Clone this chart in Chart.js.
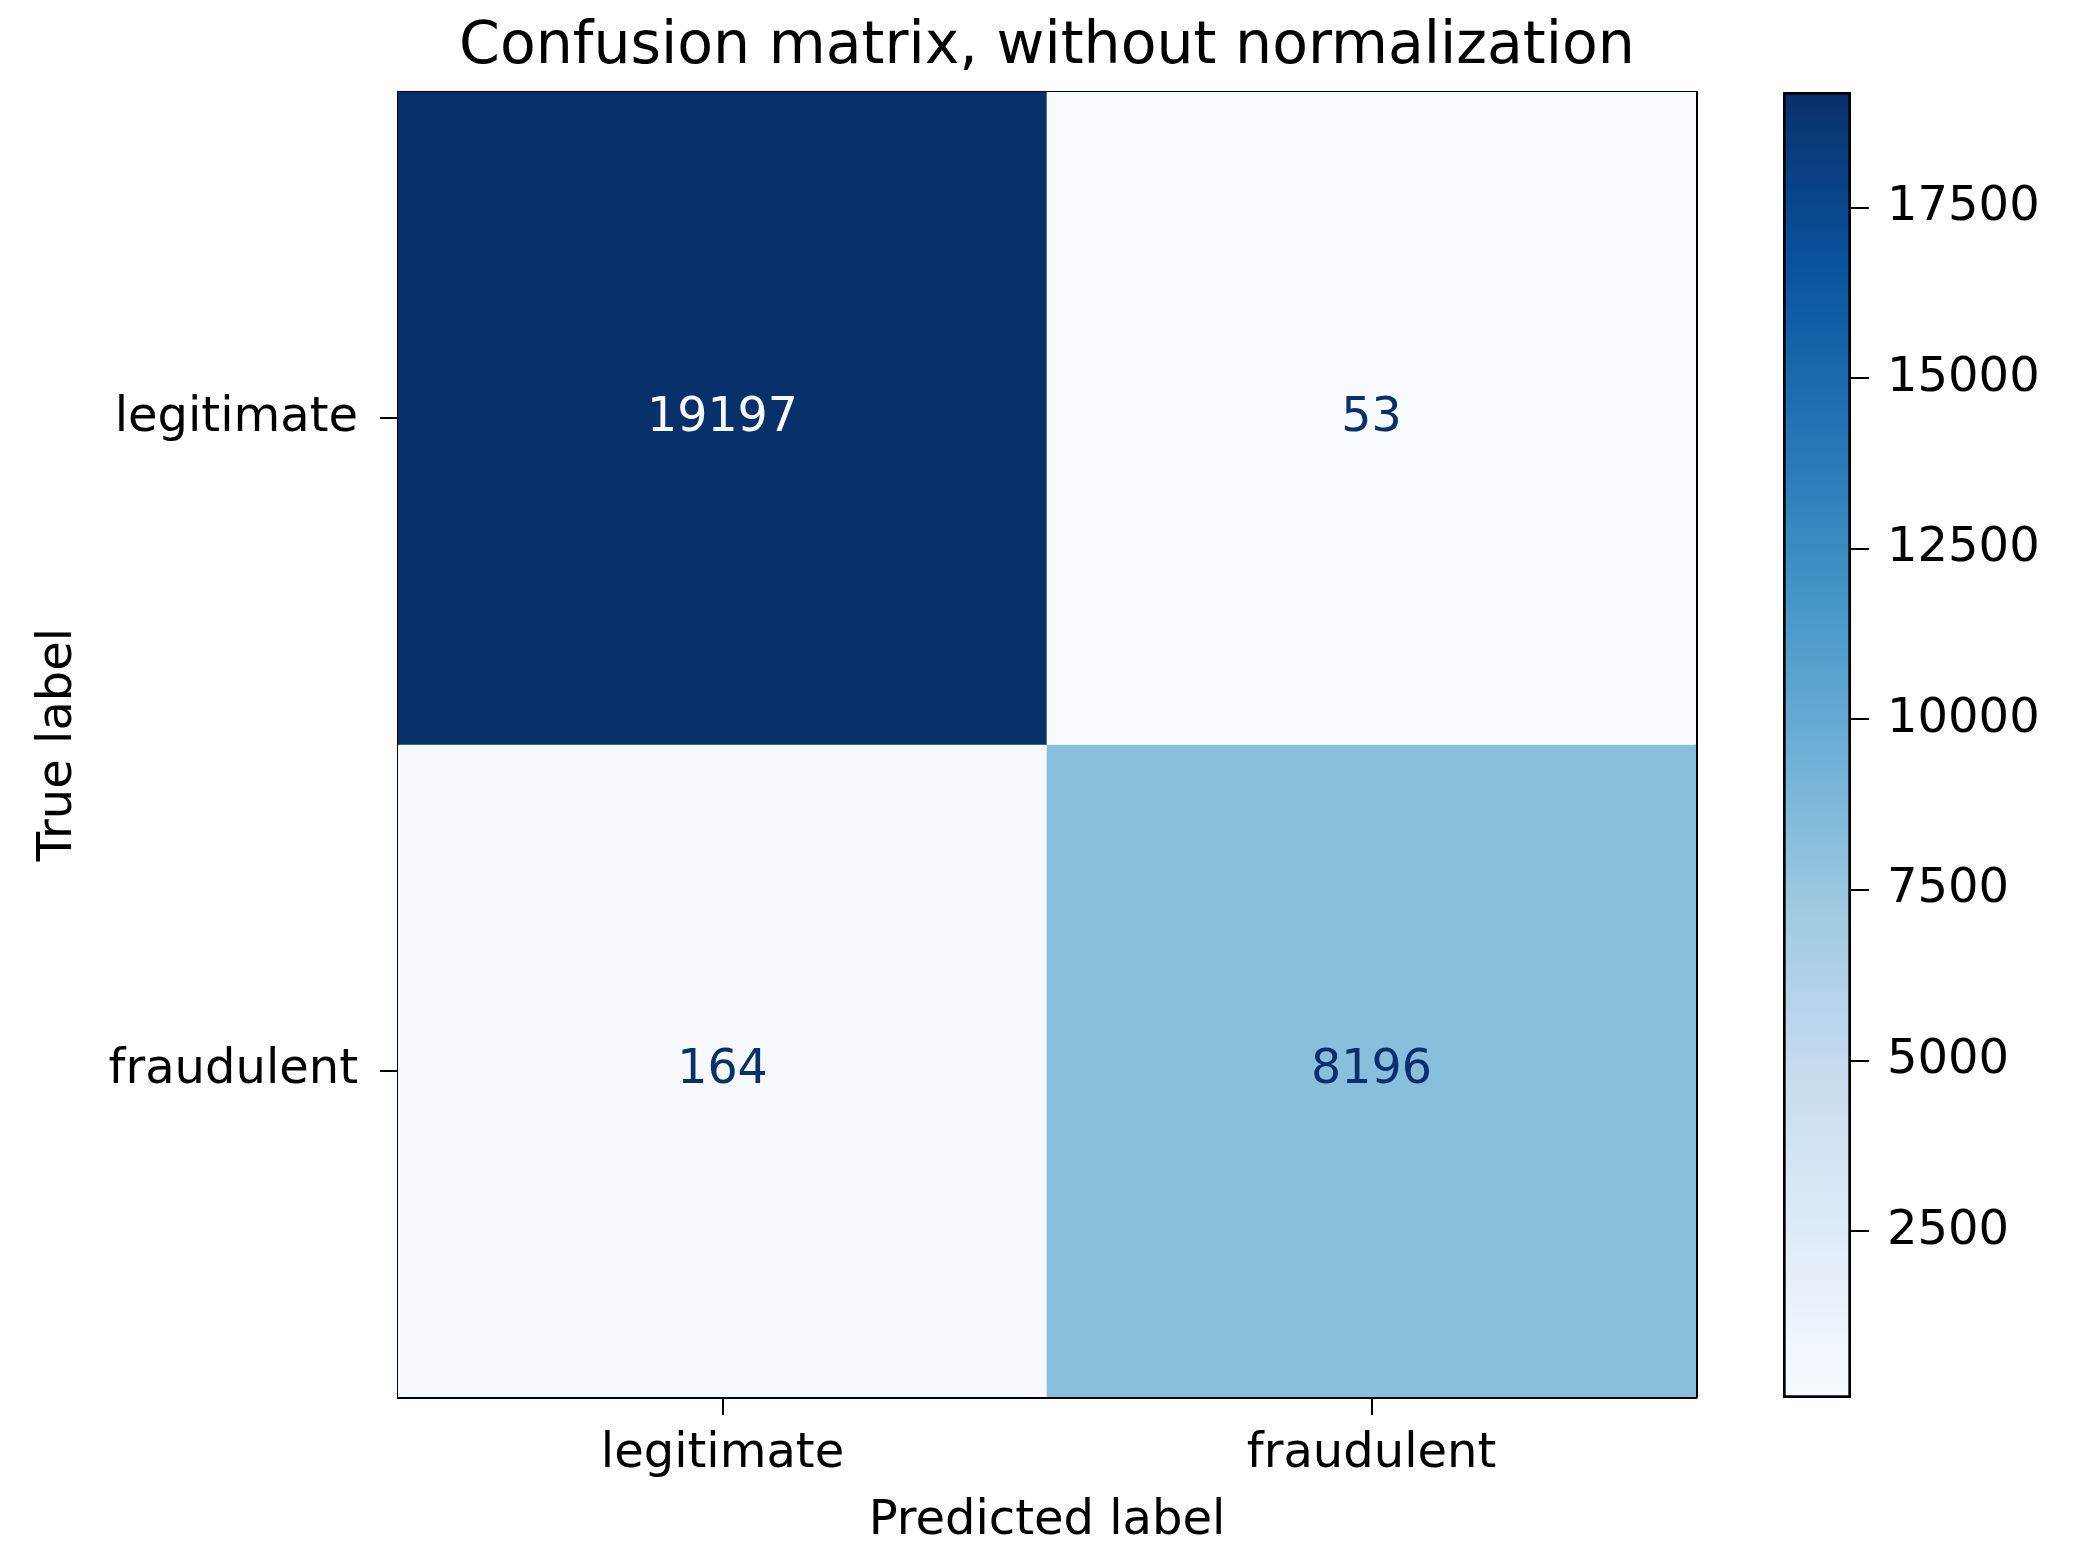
<!DOCTYPE html>
<html lang="en">
<head>
    <meta charset="UTF-8">
    <title>Confusion matrix, without normalization</title>
    <script src="https://cdn.jsdelivr.net/npm/chart.js"></script> <!--Used for charts-->
    <style>
        html, body {
            margin: 0;
            padding: 0;
            background: #ffffff;
            overflow: hidden; /* main canvas is a bit wider than the window so the title centres on the plot */
            width: 2077px;
            height: 1561px;
        }
        #matrix {
            position: absolute;
            left: 0;
            top: 0;
            width: 2094px;
            height: 1561px;
        }
        #colorbar {
            position: absolute;
            left: 1700px;
            top: 0;
            width: 377px;
            height: 1561px;
        }
    </style>
</head>
<body>
    <div id="matrix"><canvas id="matrixChart"></canvas></div>
    <div id="colorbar"><canvas id="colorbarChart"></canvas></div>

    <script>
        // Data
        const predictedLabels = ['legitimate', 'fraudulent'];
        const trueLabels = ['legitimate', 'fraudulent'];
        const legitimateRow = [19197, 53];   // true legitimate -> predicted legitimate / fraudulent
        const fraudulentRow = [164, 8196];   // true fraudulent -> predicted legitimate / fraudulent
        const colorbarTicks = [2500, 5000, 7500, 10000, 12500, 15000, 17500];

        const rows = [legitimateRow, fraudulentRow];
        const allCounts = rows.flat();
        const vmin = Math.min(...allCounts);
        const vmax = Math.max(...allCounts);
        const threshold = (vmin + vmax) / 2;

        // matplotlib "Blues" colormap
        const bluesStops = ['#f7fbff', '#deebf7', '#c6dbef', '#9ecae1', '#6baed6', '#4292c6', '#2171b5', '#08519c', '#08306b'];

        function hexToRgb(h) {
            return [parseInt(h.slice(1, 3), 16), parseInt(h.slice(3, 5), 16), parseInt(h.slice(5, 7), 16)];
        }

        function blues(t) {
            t = Math.max(0, Math.min(1, t));
            const pos = t * (bluesStops.length - 1);
            const i = Math.min(Math.floor(pos), bluesStops.length - 2);
            const f = pos - i;
            const a = hexToRgb(bluesStops[i]);
            const b = hexToRgb(bluesStops[i + 1]);
            const c = a.map((v, k) => Math.round(v + (b[k] - v) * f));
            return `rgb(${c[0]}, ${c[1]}, ${c[2]})`;
        }

        const norm = v => (v - vmin) / (vmax - vmin);

        Chart.defaults.font.family = "'DejaVu Sans', sans-serif";
        Chart.defaults.font.size = 48;
        Chart.defaults.color = '#000000';

        // Writes the count in the middle of every cell
        const cellText = {
            id: 'cellText',
            afterDatasetsDraw(chart) {
                const ctx = chart.ctx;
                ctx.save();
                ctx.font = "47.5px 'DejaVu Sans', sans-serif";
                ctx.textAlign = 'center';
                ctx.textBaseline = 'middle';
                chart.data.datasets.forEach((ds, i) => {
                    chart.getDatasetMeta(i).data.forEach((bar, j) => {
                        const v = ds.counts[j];
                        const c = bar.getCenterPoint();
                        ctx.fillStyle = v > threshold ? blues(0) : blues(1);
                        ctx.fillText(String(v), c.x, c.y);
                    });
                });
                ctx.restore();
            }
        };

        const blackTicks = { drawOnChartArea: false, tickLength: 18, lineWidth: 2, color: '#000000' };
        const frame = { display: true, color: '#000000', width: 3 };

        // one floating-bar dataset per true-label row, all drawn in the same slot
        const matrixData = {
            labels: predictedLabels,
            datasets: rows.map((row, r) => ({
                label: trueLabels[r],
                data: row.map(() => [r - 0.5, r + 0.5]),
                counts: row,
                backgroundColor: row.map(v => blues(norm(v))),
                borderWidth: 0,
                barPercentage: 1,
                categoryPercentage: 1,
                grouped: false
            }))
        };

        new Chart(document.getElementById('matrixChart').getContext('2d'), {
            type: 'bar',
            data: matrixData,
            plugins: [cellText],
            options: {
                responsive: true,
                maintainAspectRatio: false,
                animation: false,
                devicePixelRatio: 1,
                layout: { padding: 0 },
                plugins: {
                    legend: { display: false },
                    tooltip: { enabled: false },
                    title: {
                        display: true,
                        text: 'Confusion matrix, without normalization',
                        color: '#000000',
                        font: { size: 58.5, weight: 'normal' },
                        padding: { top: 12.5, bottom: 9.3 }
                    }
                },
                scales: {
                    x: {
                        type: 'category',
                        position: 'bottom',
                        offset: true,
                        z: 1,
                        grid: Object.assign({ offset: false }, blackTicks),
                        border: frame,
                        ticks: { padding: 11, maxRotation: 0 },
                        title: { display: true, text: 'Predicted label', padding: { top: 0, bottom: 11 } },
                        afterFit: scale => { scale.height = 164; }
                    },
                    y: {
                        type: 'linear',
                        position: 'left',
                        min: -0.5,
                        max: 1.5,
                        reverse: true,
                        z: 1,
                        grid: blackTicks,
                        border: frame,
                        afterBuildTicks: scale => { scale.ticks = trueLabels.map((_, i) => ({ value: i })); },
                        ticks: { padding: 22, callback: v => trueLabels[v] },
                        title: { display: true, text: 'True label', padding: { top: 30, bottom: 0 } },
                        afterFit: scale => { scale.width = 398; }
                    },
                    // right and top edges of the frame; the right one also keeps the plot centred under the title
                    yRight: {
                        type: 'linear',
                        position: 'right',
                        z: 1,
                        grid: { display: false },
                        border: frame,
                        ticks: { display: false },
                        afterFit: scale => { scale.width = 398; }
                    },
                    xTop: {
                        type: 'category',
                        position: 'top',
                        z: 1,
                        grid: { display: false },
                        border: frame,
                        ticks: { display: false },
                        afterFit: scale => { scale.height = 0; }
                    }
                }
            }
        });

        // Colorbar: one floating bar from min to max filled with the colormap
        function colorbarFill(context) {
            const chart = context.chart;
            const area = chart.chartArea;
            if (!area) return blues(0.5);
            const g = chart.ctx.createLinearGradient(0, area.bottom, 0, area.top);
            bluesStops.forEach((c, i) => g.addColorStop(i / (bluesStops.length - 1), c));
            return g;
        }

        new Chart(document.getElementById('colorbarChart').getContext('2d'), {
            type: 'bar',
            data: {
                labels: [''],
                datasets: [{
                    data: [[vmin, vmax]],
                    backgroundColor: colorbarFill,
                    borderColor: '#000000',
                    borderWidth: 3,
                    borderSkipped: false,
                    barPercentage: 1,
                    categoryPercentage: 1
                }]
            },
            options: {
                responsive: true,
                maintainAspectRatio: false,
                animation: false,
                devicePixelRatio: 1,
                layout: { padding: { left: 83, top: 92, bottom: 163, right: 0 } },
                plugins: {
                    legend: { display: false },
                    tooltip: { enabled: false }
                },
                scales: {
                    x: { display: false },
                    y: {
                        position: 'right',
                        min: vmin,
                        max: vmax,
                        grid: blackTicks,
                        border: { display: false },
                        afterBuildTicks: scale => { scale.ticks = colorbarTicks.map(v => ({ value: v })); },
                        ticks: { padding: 18, callback: v => String(v) },
                        afterFit: scale => { scale.width = 226; }
                    }
                }
            }
        });
    </script>
</body>
</html>
